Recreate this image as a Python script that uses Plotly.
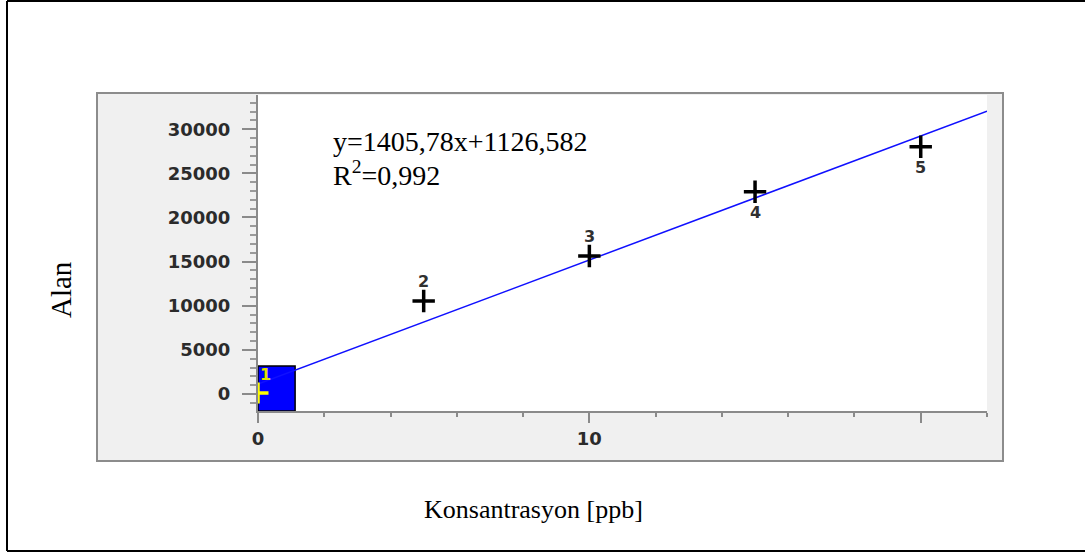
import plotly.graph_objects as go

# ---- data ----
conc = [0, 5, 10, 15, 20]                 # Konsantrasyon [ppb]
area = [100, 10540, 15640, 22920, 28020]  # Alan
point_labels = ["1", "2", "3", "4", "5"]
label_above = [True, True, True, False, False]
slope = 1405.78
intercept = 1126.582
r2_text = "0,992"
x_ticks = [0, 10, 20]
x_ticktext = ["0", "10", ""]
y_ticks = [0, 5000, 10000, 15000, 20000, 25000, 30000]
y_ticktext = ["0", "5000", "10000", "15000", "20000", "25000", "30000"]
x_range = [0, 22]
y_range = [-1926, 33877]
zoom_box = dict(x0=0, x1=1.12, y0=-1926, y1=3180)

W, H = 1085, 553
L, R, T, B = 258, 987, 95, 411
PW, PH = R - L, B - T


def px(p):
    return (p - L) / PW


def py(p):
    return (B - p) / PH


fig = go.Figure()

# fitted line
fit_x = [x_range[0], x_range[1]]
fit_y = [slope * v + intercept for v in fit_x]
fig.add_trace(go.Scatter(x=fit_x, y=fit_y, mode="lines",
                         line=dict(color="#1010ff", width=1.5),
                         hoverinfo="skip", showlegend=False))

# first point (yellow), clipped at the axis
fig.add_trace(go.Scatter(x=conc[:1], y=area[:1], mode="markers",
                         marker=dict(symbol="cross-thin", size=15,
                                     line=dict(color="#ffff00", width=3.5)),
                         hoverinfo="skip", showlegend=False))

# other points
fig.add_trace(go.Scatter(x=conc[1:], y=area[1:], mode="markers",
                         marker=dict(symbol="cross-thin", size=16,
                                     line=dict(color="#000000", width=3.5)),
                         showlegend=False))

frame_l, frame_t, frame_b = px(7), py(1), py(551)
shapes = [
    # outer frame (left, top, bottom edges)
    dict(type="line", xref="paper", yref="paper", layer="below",
         x0=frame_l, x1=frame_l, y0=frame_b, y1=frame_t,
         line=dict(color="black", width=2)),
    dict(type="line", xref="paper", yref="paper", layer="below",
         x0=frame_l, x1=px(1085), y0=frame_t, y1=frame_t,
         line=dict(color="black", width=2)),
    dict(type="line", xref="paper", yref="paper", layer="below",
         x0=frame_l, x1=px(1085), y0=frame_b, y1=frame_b,
         line=dict(color="black", width=2)),
    # gray panel
    dict(type="rect", xref="paper", yref="paper", layer="below",
         x0=px(97), x1=px(1003), y0=py(461), y1=py(93),
         line=dict(color="#8c8c8c", width=2), fillcolor="#f0f0f0"),
    # white plotting region
    dict(type="rect", xref="paper", yref="paper", layer="below",
         x0=0, x1=1, y0=0, y1=1,
         line=dict(width=0), fillcolor="white"),
    # blue zoom box
    dict(type="rect", xref="x", yref="y", layer="below",
         x0=zoom_box["x0"], x1=zoom_box["x1"],
         y0=zoom_box["y0"], y1=zoom_box["y1"],
         line=dict(color="black", width=1.5), fillcolor="#0000ff"),
]

annotations = []
for xi, yi, lab, above in zip(conc, area, point_labels, label_above):
    first = lab == point_labels[0]
    annotations.append(dict(
        xref="x", yref="y", x=xi, y=yi, showarrow=False, text=lab,
        xanchor="left" if first else "center", yanchor="middle",
        yshift=19 if above else -21,
        font=dict(family="DejaVu Sans", size=16, weight="bold",
                  color="#e0e000" if first else "#303030")))

annotations += [
    dict(xref="paper", yref="paper", x=px(331), y=py(141), xanchor="left",
         yanchor="middle", showarrow=False,
         text=f"y={str(slope).replace('.', ',')}x+{str(intercept).replace('.', ',')}",
         font=dict(family="Liberation Serif", size=28, color="black")),
    dict(xref="paper", yref="paper", x=px(331), y=py(173), xanchor="left",
         yanchor="middle", showarrow=False,
         text=f"R<sup>2</sup>={r2_text}",
         font=dict(family="Liberation Serif", size=28, color="black")),
    dict(xref="paper", yref="paper", x=px(533), y=py(510), xanchor="center",
         yanchor="middle", showarrow=False, text="Konsantrasyon [ppb]",
         font=dict(family="Liberation Serif", size=26, color="black")),
    dict(xref="paper", yref="paper", x=px(61), y=py(290), xanchor="center",
         yanchor="middle", showarrow=False, text="Alan", textangle=-90,
         font=dict(family="Liberation Serif", size=29, color="black")),
]

tickfont = dict(family="DejaVu Sans", size=18, color="#2b2b2b", weight="bold")

fig.update_layout(
    width=W, height=H,
    margin=dict(l=L, r=W - R, t=T, b=H - B, pad=0),
    paper_bgcolor="white", plot_bgcolor="white",
    shapes=shapes, annotations=annotations, showlegend=False,
    xaxis=dict(range=x_range, showgrid=False, zeroline=False,
               showline=True, linecolor="#8a8a8a", linewidth=2,
               ticks="outside", tickvals=x_ticks, ticktext=x_ticktext,
               ticklen=10, tickwidth=2, tickcolor="#8a8a8a",
               minor=dict(dtick=2, tick0=0, ticks="outside", ticklen=4,
                          tickwidth=2, tickcolor="#8a8a8a", showgrid=False),
               tickfont=tickfont, fixedrange=True),
    yaxis=dict(range=y_range, showgrid=False, zeroline=False,
               showline=True, linecolor="#8a8a8a", linewidth=2,
               ticks="outside", tickvals=y_ticks, ticktext=y_ticktext,
               ticklen=14, tickwidth=2, tickcolor="#8a8a8a",
               ticklabelstandoff=8,
               minor=dict(dtick=1000, tick0=0, ticks="outside", ticklen=6,
                          tickwidth=2, tickcolor="#9a9a9a", showgrid=False),
               tickfont=tickfont, fixedrange=True),
)

fig.write_html("out.html",
               config={"displayModeBar": False},
               post_script="document.body.style.margin='0';"
                           "document.body.style.overflow='hidden';")
